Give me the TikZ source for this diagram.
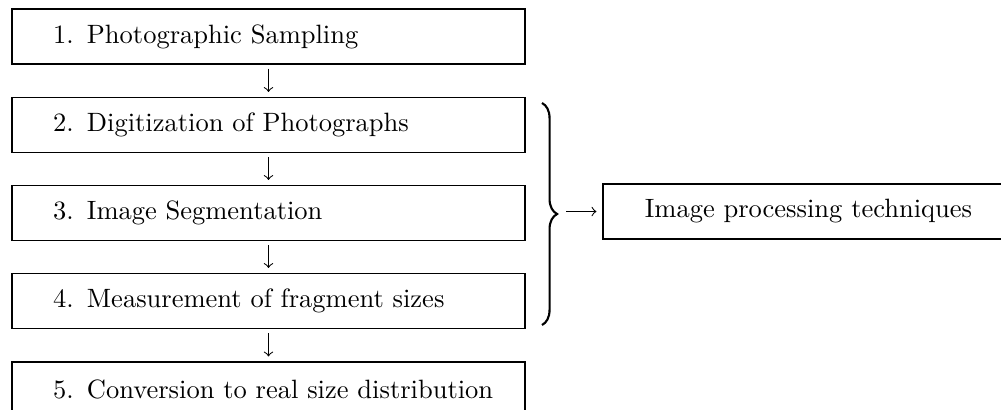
\documentclass[tikz,border=0pt]{standalone}
\usetikzlibrary{decorations.pathreplacing}
\begin{document}
\begin{tikzpicture}[x=0.3774pt, y=-0.3774pt,
  stepbox/.style={draw, line width=0.4pt, minimum width=193.6pt, minimum height=20.76pt,
    inner xsep=15.5pt, inner ysep=0pt, text width=162.6pt, align=left},
  sidebox/.style={draw, line width=0.4pt, minimum width=155.1pt, minimum height=20.76pt,
    inner sep=0pt, align=center},
  flow/.style={->, line width=0.4pt, shorten <=1.5pt, shorten >=1.9pt},
  bracestyle/.style={decorate, decoration={brace, amplitude=5.7pt}, line width=0.8pt}]
\useasboundingbox (0,0) rectangle (1001,409);
\clip (0,0) rectangle (1001,409);
\node[stepbox] (s1) at (268.5,36.5) {\makebox[162.6pt][l]{1. Photographic Sampling}};
\node[stepbox] (s2) at (268.5,125) {\makebox[162.6pt][l]{2. Digitization of Photographs}};
\node[stepbox] (s3) at (268.5,213) {\makebox[162.6pt][l]{3. Image Segmentation}};
\node[stepbox] (s4) at (268.5,301) {\makebox[162.6pt][l]{4. Measurement of fragment sizes}};
\node[stepbox] (s5) at (268.5,389.5) {\makebox[162.6pt][l]{5. Conversion to real size distribution}};
\node[sidebox] (ip) at (808.5,211.5) {Image processing techniques};
\draw[flow] (s1) -- (s2);
\draw[flow] (s2) -- (s3);
\draw[flow] (s3) -- (s4);
\draw[flow] (s4) -- (s5);
\draw[bracestyle] (542,103) -- (542,325);
\coordinate (bt) at (566,211.5);
\draw[->, line width=0.4pt, shorten >=2.3pt] (bt) -- (ip.west);
\end{tikzpicture}
\end{document}
